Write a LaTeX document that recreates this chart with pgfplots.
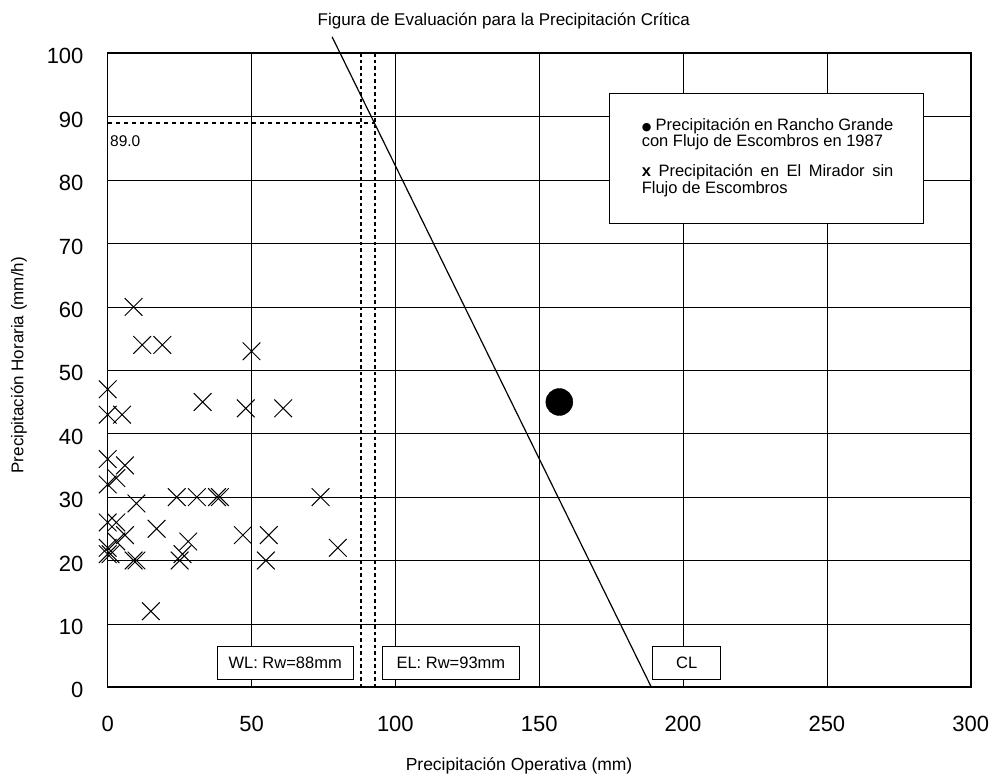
\documentclass[border=0pt]{standalone}
\usepackage{fontspec}
\setmainfont{Liberation Sans}
\newfontfamily\dejavu{DejaVu Sans}
\usepackage{pgfplots}
\pgfplotsset{compat=1.18}
\begin{document}
\begin{tikzpicture}
\path[use as bounding box] (-107.7pt,-90.7pt) rectangle (882.3pt,687.3pt);
\begin{axis}[
  at={(0pt,0pt)}, anchor=south west,
  scale only axis, width=863pt, height=634pt,
  xmin=0, xmax=300, ymin=0, ymax=100,
  xtick={0,50,...,300}, ytick={0,10,...,100},
  grid=major, major grid style={black, line width=0.7pt},
  axis line style={black, line width=1.6pt},
  tick style={draw=none},
  ticklabel style={font=\fontsize{22}{26}\selectfont},
  /pgf/number format/assume math mode=true,
  xticklabel style={yshift=-25.7pt},
  yticklabel style={xshift=-20.7pt, yshift=-3pt},
  clip=false,
]
% scatter: El Mirador
\addplot[only marks, mark=x, mark size=12.5pt, mark options={line width=1pt, black}] coordinates {
(9,60) (12,54) (19,54) (50,53) (0,47) (33,45) (48,44) (61,44) (0,43) (5,43)
(0,36) (6,35) (0,32) (3,33) (10,29) (24,30) (31,30) (38,30) (39,30) (0,26)
(3,26) (17,25) (6,24) (47,24) (56,24) (3,23) (28,23) (0,22) (1,21) (0,21)
(80,22) (74,30) (9,20) (10,20) (25,20) (26,21) (55,20) (15,12)
};
% Rancho Grande
\addplot[only marks, mark=*, mark size=13.5pt, mark options={fill=black, draw=black}] coordinates {(157,45)};
% dotted lines
\addplot[black, line width=1.8pt, dash pattern=on 3.5pt off 3pt, no marks] coordinates {(88,0) (88,100)};
\addplot[black, line width=1.8pt, dash pattern=on 3.5pt off 3pt, no marks] coordinates {(93,0) (93,100)};
\addplot[black, line width=1.8pt, dash pattern=on 4.5pt off 3.5pt, no marks] coordinates {(0,89) (93,89)};
% critical line
\addplot[black, line width=1.2pt, no marks] coordinates {(189,0) (78,102.6)};

\node[anchor=base west, inner sep=0pt, font=\fontsize{15.5}{18}\selectfont] at (axis cs:0.8,85.3) {89.0};

% boxes
\node[draw, line width=1pt, fill=white, minimum width=136pt, minimum height=33.5pt, inner sep=0pt, font=\fontsize{16.5}{19}\selectfont] at (axis cs:61.7,3.83) {WL: Rw=88mm};
\node[draw, line width=1pt, fill=white, minimum width=136.3pt, minimum height=33.5pt, inner sep=0pt, font=\fontsize{16.5}{19}\selectfont] at (axis cs:119.3,3.83) {EL: Rw=93mm};
\node[draw, line width=1pt, fill=white, minimum width=68.3pt, minimum height=33.5pt, inner sep=0pt, font=\fontsize{16.5}{19}\selectfont] at (axis cs:201.3,3.83) {CL};

% legend box
\node[draw, line width=1pt, fill=white, minimum width=314pt, minimum height=130.4pt, inner sep=0pt, anchor=north west] at (axis cs:174.3,93.8) {};
\node[anchor=base west, inner sep=0pt] at (axis cs:185.6,87.9) {\parbox[t]{260pt}{\fontsize{16.5}{16.5}\selectfont
\makebox[251.6pt][s]{{\dejavu\fontsize{11}{11}\selectfont ●} Precipitación en Rancho Grande}\\
con Flujo de Escombros en 1987}};
\node[anchor=base west, inner sep=0pt] at (axis cs:185.6,80.5) {\parbox[t]{260pt}{\fontsize{16.5}{16.5}\selectfont
\makebox[251.6pt][s]{\textbf{x} Precipitación en El Mirador sin}\\
Flujo de Escombros}};

% title and axis labels
\node[anchor=base, inner sep=0pt, font=\fontsize{17}{20}\selectfont] at (axis cs:137.7,104.46) {Figura de Evaluación para la Precipitación Crítica};
\node[anchor=base, inner sep=0pt, font=\fontsize{17.5}{20}\selectfont] at (axis cs:143,-13.2) {Precipitación Operativa (mm)};
\node[anchor=base, rotate=90, inner sep=0pt, font=\fontsize{17}{20}\selectfont] at (axis cs:-29.3,50.8) {Precipitación Horaria (mm/h)};
\end{axis}
\end{tikzpicture}
\end{document}
